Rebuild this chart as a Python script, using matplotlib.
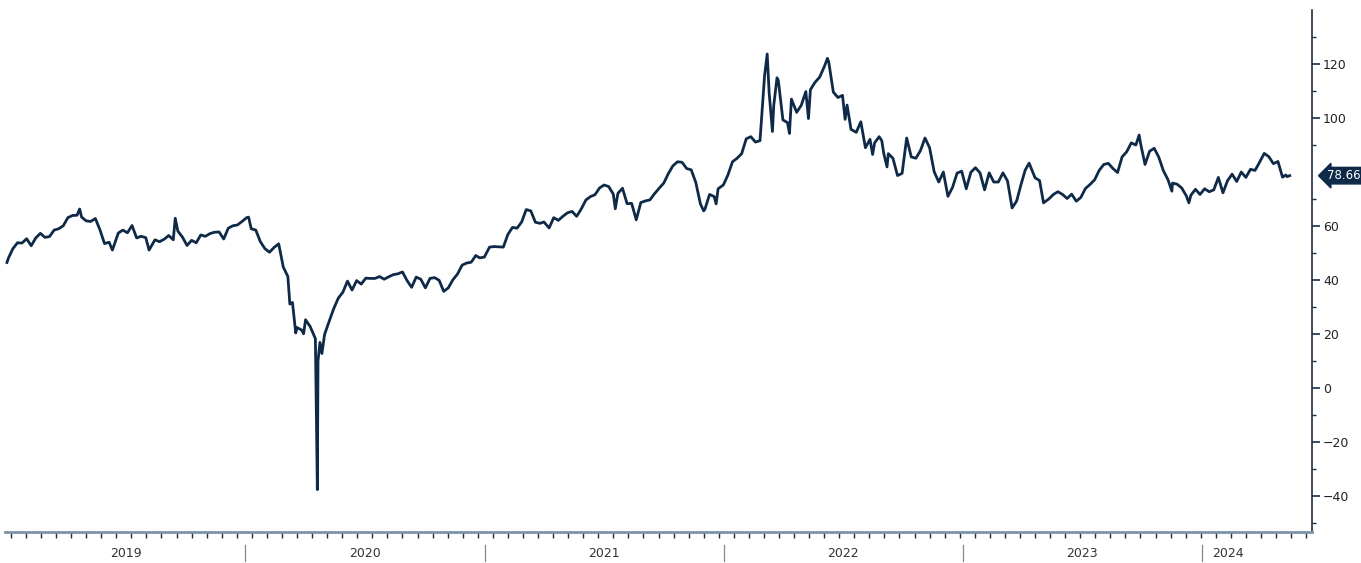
import matplotlib
matplotlib.use("Agg")
import matplotlib.pyplot as plt
import matplotlib.dates as mdates
import matplotlib.transforms as mtrans
import numpy as np
import pandas as pd

# ---- data ----
dates_2019 = ["2019-01-02","2019-01-04","2019-01-11","2019-01-18","2019-01-25","2019-02-01","2019-02-08","2019-02-15",
              "2019-02-22","2019-03-01","2019-03-08","2019-03-15","2019-03-22","2019-03-29","2019-04-05","2019-04-12",
              "2019-04-19","2019-04-23","2019-04-26","2019-05-03","2019-05-10","2019-05-17","2019-05-24","2019-05-31",
              "2019-06-07","2019-06-12","2019-06-21","2019-06-28","2019-07-05","2019-07-12","2019-07-19","2019-07-26",
              "2019-08-02","2019-08-07","2019-08-16","2019-08-23","2019-08-30","2019-09-06","2019-09-13","2019-09-16",
              "2019-09-20","2019-09-27","2019-10-04","2019-10-11","2019-10-18","2019-10-25","2019-11-01","2019-11-08",
              "2019-11-15","2019-11-22","2019-11-29","2019-12-06","2019-12-13","2019-12-20","2019-12-27"]
wti_2019 = [46.5, 48.0, 51.6, 53.8, 53.7, 55.3, 52.7, 55.6,
            57.3, 55.8, 56.1, 58.5, 59.0, 60.1, 63.1, 63.9,
            64.0, 66.3, 63.3, 61.9, 61.7, 62.8, 58.6, 53.5,
            54.0, 51.1, 57.4, 58.5, 57.5, 60.2, 55.6, 56.2,
            55.7, 51.1, 54.9, 54.2, 55.1, 56.5, 54.9, 62.9,
            58.1, 55.9, 52.8, 54.7, 53.8, 56.7, 56.2, 57.2,
            57.7, 57.8, 55.2, 59.2, 60.1, 60.4, 61.7]

dates_2020 = ["2020-01-03","2020-01-06","2020-01-10","2020-01-17","2020-01-24","2020-01-31","2020-02-07","2020-02-14",
              "2020-02-21","2020-02-28","2020-03-06","2020-03-09","2020-03-13","2020-03-18","2020-03-20","2020-03-27",
              "2020-03-30","2020-04-02","2020-04-09","2020-04-17","2020-04-20","2020-04-21","2020-04-24","2020-04-27",
              "2020-05-01","2020-05-08","2020-05-15","2020-05-22","2020-05-29","2020-06-05","2020-06-12","2020-06-19",
              "2020-06-26","2020-07-03","2020-07-10","2020-07-17","2020-07-24","2020-07-31","2020-08-07","2020-08-14",
              "2020-08-21","2020-08-28","2020-09-04","2020-09-11","2020-09-18","2020-09-25","2020-10-02","2020-10-09",
              "2020-10-16","2020-10-23","2020-10-30","2020-11-06","2020-11-13","2020-11-20","2020-11-27","2020-12-04",
              "2020-12-11","2020-12-18","2020-12-24","2020-12-31"]
wti_2020 = [63.1, 63.3, 59.0, 58.5, 54.2, 51.6, 50.3, 52.1,
            53.4, 44.8, 41.3, 31.1, 31.7, 20.4, 22.4, 21.5,
            20.1, 25.3, 22.8, 18.3, -37.6, 10.0, 16.9, 12.8,
            19.8, 24.7, 29.4, 33.3, 35.5, 39.6, 36.3, 39.8,
            38.5, 40.7, 40.6, 40.6, 41.3, 40.3, 41.2, 42.0,
            42.3, 43.0, 39.8, 37.3, 41.1, 40.3, 37.1, 40.6,
            40.9, 39.9, 35.8, 37.1, 40.1, 42.2, 45.5, 46.3,
            46.6, 49.1, 48.2, 48.5]

dates_2021 = ["2021-01-08","2021-01-15","2021-01-22","2021-01-29","2021-02-05","2021-02-12","2021-02-19","2021-02-26",
              "2021-03-05","2021-03-12","2021-03-19","2021-03-26","2021-04-01","2021-04-09","2021-04-16","2021-04-23",
              "2021-04-30","2021-05-07","2021-05-14","2021-05-21","2021-05-28","2021-06-04","2021-06-11","2021-06-18",
              "2021-06-25","2021-07-02","2021-07-09","2021-07-16","2021-07-19","2021-07-23","2021-07-30","2021-08-06",
              "2021-08-13","2021-08-20","2021-08-27","2021-09-03","2021-09-10","2021-09-17","2021-09-24","2021-10-01",
              "2021-10-08","2021-10-15","2021-10-22","2021-10-29","2021-11-05","2021-11-12","2021-11-19","2021-11-26",
              "2021-12-01","2021-12-03","2021-12-10","2021-12-17","2021-12-20","2021-12-23","2021-12-31"]
wti_2021 = [52.2, 52.4, 52.3, 52.2, 56.9, 59.5, 59.2, 61.5,
            66.1, 65.6, 61.4, 61.0, 61.5, 59.3, 63.1, 62.1,
            63.6, 64.9, 65.4, 63.6, 66.3, 69.6, 70.9, 71.6,
            74.1, 75.2, 74.6, 71.8, 66.4, 72.1, 74.0, 68.3,
            68.4, 62.3, 68.7, 69.3, 69.7, 72.0, 74.0, 75.9,
            79.4, 82.3, 83.8, 83.6, 81.3, 80.8, 76.1, 68.2,
            65.6, 66.3, 71.7, 70.9, 68.2, 73.8, 75.2]

dates_2022 = ["2022-01-07","2022-01-14","2022-01-21","2022-01-28","2022-02-04","2022-02-11","2022-02-18","2022-02-25",
              "2022-03-04","2022-03-08","2022-03-11","2022-03-16","2022-03-18","2022-03-23","2022-03-25","2022-04-01",
              "2022-04-08","2022-04-11","2022-04-14","2022-04-22","2022-04-29","2022-05-06","2022-05-10","2022-05-13",
              "2022-05-20","2022-05-27","2022-06-03","2022-06-08","2022-06-10","2022-06-17","2022-06-24","2022-07-01",
              "2022-07-05","2022-07-08","2022-07-14","2022-07-22","2022-07-29","2022-08-05","2022-08-12","2022-08-16",
              "2022-08-19","2022-08-26","2022-08-30","2022-09-02","2022-09-07","2022-09-09","2022-09-16","2022-09-23",
              "2022-09-30","2022-10-07","2022-10-14","2022-10-21","2022-10-28","2022-11-04","2022-11-11","2022-11-18",
              "2022-11-25","2022-12-02","2022-12-09","2022-12-16","2022-12-23","2022-12-30"]
wti_2022 = [78.9, 83.8, 85.1, 86.8, 92.3, 93.1, 91.1, 91.6,
            115.7, 123.7, 109.3, 95.0, 104.7, 114.9, 113.9, 99.3,
            98.3, 94.3, 107.0, 102.1, 104.7, 109.8, 99.8, 110.5,
            113.2, 115.1, 118.9, 122.1, 120.7, 109.6, 107.6, 108.4,
            99.5, 104.8, 95.8, 94.7, 98.6, 89.0, 92.1, 86.5,
            90.8, 93.1, 91.6, 86.9, 81.9, 86.8, 85.1, 78.7,
            79.5, 92.6, 85.6, 85.1, 87.9, 92.6, 89.0, 80.1,
            76.3, 80.0, 71.0, 74.3, 79.6, 80.3]

dates_2023 = ["2023-01-06","2023-01-13","2023-01-20","2023-01-27","2023-02-03","2023-02-10","2023-02-17","2023-02-24",
              "2023-03-03","2023-03-10","2023-03-17","2023-03-24","2023-03-31","2023-04-06","2023-04-12","2023-04-21",
              "2023-04-28","2023-05-04","2023-05-12","2023-05-19","2023-05-26","2023-06-02","2023-06-09","2023-06-16",
              "2023-06-23","2023-06-30","2023-07-07","2023-07-14","2023-07-21","2023-07-28","2023-08-04","2023-08-11",
              "2023-08-18","2023-08-25","2023-09-01","2023-09-08","2023-09-15","2023-09-22","2023-09-27","2023-09-29",
              "2023-10-06","2023-10-13","2023-10-20","2023-10-27","2023-11-03","2023-11-10","2023-11-16","2023-11-17",
              "2023-11-24","2023-12-01","2023-12-08","2023-12-12","2023-12-15","2023-12-22","2023-12-29"]
wti_2023 = [73.8, 79.9, 81.6, 79.7, 73.4, 79.7, 76.3, 76.3,
            79.7, 76.7, 66.7, 69.3, 75.7, 80.7, 83.3, 77.9,
            76.8, 68.6, 70.0, 71.7, 72.7, 71.7, 70.2, 71.8,
            69.2, 70.6, 73.9, 75.4, 77.1, 80.6, 82.8, 83.2,
            81.3, 79.8, 85.6, 87.5, 90.8, 90.0, 93.7, 90.8,
            82.8, 87.7, 88.8, 85.5, 80.5, 77.2, 72.9, 75.9,
            75.5, 74.1, 71.2, 68.6, 71.4, 73.6, 71.7]

dates_2024 = ["2024-01-05","2024-01-12","2024-01-19","2024-01-26","2024-02-02","2024-02-09","2024-02-16","2024-02-23",
              "2024-03-01","2024-03-08","2024-03-15","2024-03-22","2024-03-28","2024-04-05","2024-04-12","2024-04-19",
              "2024-04-26","2024-05-03","2024-05-08","2024-05-10","2024-05-14"]
wti_2024 = [73.8, 72.7, 73.4, 78.0, 72.3, 76.8, 79.2, 76.5,
            80.0, 78.0, 81.0, 80.6, 83.2, 86.9, 85.7, 83.1,
            83.9, 78.1, 78.9, 78.3, 78.66]

last_value = 78.66
year_labels = ["2019", "2020", "2021", "2022", "2023", "2024"]
year_label_pos = ["2019-07-02", "2020-07-02", "2021-07-02", "2022-07-02", "2023-07-02", "2024-02-10"]
year_breaks = ["2020-01-01", "2021-01-01", "2022-01-01", "2023-01-01", "2024-01-01"]
y_major = [-40, -20, 0, 20, 40, 60, 100, 120]
y_minor = [-50, -30, -10, 10, 30, 50, 70, 90, 110, 130]

dates = pd.to_datetime(dates_2019 + dates_2020 + dates_2021 + dates_2022 + dates_2023 + dates_2024)
wti = np.array(wti_2019 + wti_2020 + wti_2021 + wti_2022 + wti_2023 + wti_2024)

# ---- figure ----
navy = "#0f2a48"
fig = plt.figure(figsize=(13.61, 5.63), dpi=100)
ax = fig.add_axes([5 / 1361, 1 - 532 / 563, (1312 - 5) / 1361, (532 - 10) / 563])

ax.plot(dates, wti, color=navy, lw=2.0, solid_joinstyle="round")

ax.set_xlim(pd.Timestamp("2018-12-30"), pd.Timestamp("2024-06-17"))
ax.set_ylim(-53.3, 140)

for s in ["left", "top"]:
    ax.spines[s].set_visible(False)
ax.spines["right"].set_color("#1b2f44")
ax.spines["right"].set_linewidth(1.2)
ax.spines["bottom"].set_color("#7d93a6")
ax.spines["bottom"].set_linewidth(2.0)

ax.yaxis.tick_right()
ax.set_yticks(y_major)
ax.set_yticks(y_minor, minor=True)
ax.tick_params(axis="y", which="major", length=6, width=1.2, color="#1b2f44",
               labelsize=9, labelcolor="#222222", pad=2)
ax.tick_params(axis="y", which="minor", length=3, width=1, color="#1b2f44")

# x ticks (unlabelled, evenly spaced)
xt = pd.date_range("2019-01-08", "2024-06-15", freq="23D")
ax.set_xticks(xt)
ax.set_xticklabels([])
ax.tick_params(axis="x", which="major", length=4, width=1, color="#1b2f44", direction="out")

trans = mtrans.blended_transform_factory(ax.transData, ax.transAxes)
for b in year_breaks:
    ax.plot([pd.Timestamp(b)] * 2, [-0.025, -0.055], transform=trans, color="#888888",
            lw=0.9, clip_on=False)
for lab, pos in zip(year_labels, year_label_pos):
    ax.text(pd.Timestamp(pos), -0.041, lab, transform=trans, ha="center", va="center",
            fontsize=9, color="#333333")

# last value tag
ax.annotate(f"{last_value:.2f}", xy=(1.0, last_value), xycoords=("axes fraction", "data"),
            xytext=(11, 0), textcoords="offset points", ha="left", va="center",
            fontsize=8.5, color="white",
            bbox=dict(boxstyle="larrow,pad=0.15", fc=navy, ec=navy))

fig.savefig("out.png", dpi=100)
